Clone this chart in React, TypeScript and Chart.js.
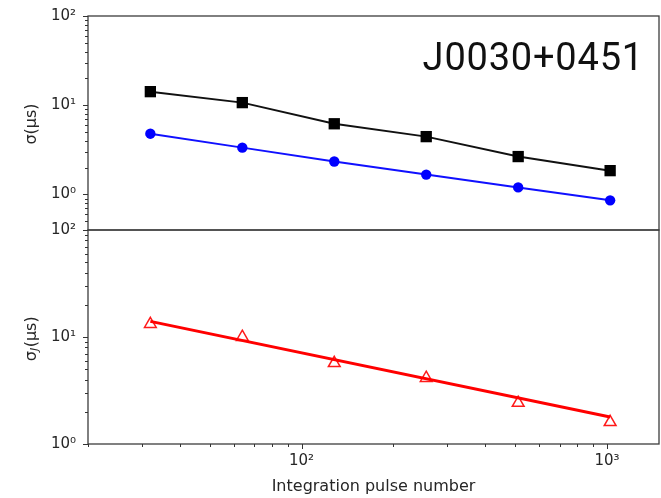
import React, { useEffect, useRef } from 'react';
import { Chart, registerables } from 'chart.js';

Chart.register(...registerables);

// ---- data ----
const pulseNumbers = [32, 64, 128, 256, 512, 1024];
const sigmaTotal = [14.2, 10.7, 6.2, 4.45, 2.66, 1.85];
const sigmaWhite = [4.8, 3.35, 2.34, 1.67, 1.2, 0.86];
const sigmaJitter = [13.2, 10.0, 5.7, 4.14, 2.42, 1.6];
const jitterFitX = [32, 1024];
const jitterFitY = [14.0, 1.79];

const xTicks = [20, 30, 40, 50, 60, 70, 80, 90, 100, 200, 300, 400, 500, 600, 700, 800, 900, 1000];
const yTopTicks = [0.4, 0.5, 0.6, 0.7, 0.8, 0.9, 1, 2, 3, 4, 5, 6, 7, 8, 9, 10, 20, 30, 40, 50, 60, 70, 80, 90, 100];
const yBottomTicks = [1, 2, 3, 4, 5, 6, 7, 8, 9, 10, 20, 30, 40, 50, 60, 70, 80, 90, 100];
const tickLabels: Record<string, string> = { '1': '10⁰', '10': '10¹', '100': '10²', '1000': '10³' };

const pulsarName = 'J0030+0451';
const xTitle = 'Integration pulse number';
const yTopTitle = 'σ(μs)';
const yBottomTitle = ['σ', 'J', '(μs)'];

const TEXT = '#262626';
const FONT = '"DejaVu Sans", sans-serif';

const isMajor = (v: number) => Math.abs(Math.log10(v) - Math.round(Math.log10(v))) < 1e-9;

const decor = {
  id: 'decor',
  afterDraw(chart: any) {
    const ctx = chart.ctx as CanvasRenderingContext2D;
    const { left, right } = chart.chartArea;
    const x = chart.scales.x;
    const yt = chart.scales.yTop;
    const yb = chart.scales.yBottom;
    ctx.save();
    // panel boxes
    ctx.strokeStyle = '#3c3c3c';
    ctx.lineWidth = 1.3;
    ctx.strokeRect(left, yt.top, right - left, yt.bottom - yt.top);
    ctx.strokeRect(left, yb.top, right - left, yb.bottom - yb.top);
    // tick marks
    ctx.lineWidth = 1;
    ctx.strokeStyle = '#333';
    ctx.beginPath();
    for (const t of xTicks) {
      const px = Math.round(x.getPixelForValue(t)) + 0.5;
      const len = isMajor(t) ? 5 : 3;
      ctx.moveTo(px, yb.bottom);
      ctx.lineTo(px, yb.bottom + len);
    }
    for (const [scale, ticks] of [[yt, yTopTicks], [yb, yBottomTicks]] as any) {
      for (const t of ticks) {
        const py = Math.round(scale.getPixelForValue(t)) + 0.5;
        const len = isMajor(t) ? 5 : 3;
        ctx.moveTo(left, py);
        ctx.lineTo(left - len, py);
      }
    }
    ctx.stroke();

    // pulsar name
    ctx.fillStyle = '#111';
    ctx.font = '38px Roboto';
    (ctx as any).letterSpacing = '0.8px';
    ctx.textAlign = 'right';
    ctx.textBaseline = 'alphabetic';
    ctx.fillText(pulsarName, right - 15, yt.top + 54);
    (ctx as any).letterSpacing = '0px';

    // y titles
    ctx.fillStyle = TEXT;
    ctx.font = `16px ${FONT}`;
    ctx.save();
    ctx.translate(31.5, (yt.top + yt.bottom) / 2 + 1);
    ctx.rotate(-Math.PI / 2);
    ctx.textAlign = 'center';
    ctx.textBaseline = 'middle';
    ctx.fillText(yTopTitle, 0, 0);
    ctx.restore();

    ctx.save();
    ctx.translate(31.5, (yb.top + yb.bottom) / 2 + 2);
    ctx.rotate(-Math.PI / 2);
    ctx.textAlign = 'left';
    ctx.textBaseline = 'middle';
    ctx.font = `16px ${FONT}`;
    const w1 = ctx.measureText(yBottomTitle[0]).width;
    const w3 = ctx.measureText(yBottomTitle[2]).width;
    ctx.font = `italic 11px ${FONT}`;
    const w2 = ctx.measureText(yBottomTitle[1]).width;
    let sx = -(w1 + w2 + w3) / 2;
    ctx.font = `16px ${FONT}`;
    ctx.fillText(yBottomTitle[0], sx, 0);
    sx += w1;
    ctx.font = `italic 11px ${FONT}`;
    ctx.fillText(yBottomTitle[1], sx, 4);
    sx += w2 + 0.5;
    ctx.font = `16px ${FONT}`;
    ctx.fillText(yBottomTitle[2], sx, 0);
    ctx.restore();

    ctx.restore();
  },
};

export default function App() {
  const ref = useRef<HTMLCanvasElement | null>(null);

  useEffect(() => {
    if (!ref.current) return;
    const pts = (xs: number[], ys: number[]) => xs.map((v, i) => ({ x: v, y: ys[i] }));
    const labelCb = (v: any) => tickLabels[String(v)] ?? '';
    const tickFont = { family: FONT, size: 15 };

    const chart = new Chart(ref.current, {
      type: 'line',
      data: {
        datasets: [
          {
            data: pts(pulseNumbers, sigmaTotal),
            yAxisID: 'yTop',
            borderColor: '#111',
            backgroundColor: '#000',
            borderWidth: 2,
            pointStyle: 'rect',
            pointRadius: 8,
            pointBorderWidth: 0,
          },
          {
            data: pts(pulseNumbers, sigmaWhite),
            yAxisID: 'yTop',
            borderColor: '#1010ff',
            backgroundColor: '#0000ff',
            borderWidth: 2,
            pointStyle: 'circle',
            pointRadius: 5.2,
            pointBorderWidth: 0,
          },
          {
            data: pts(jitterFitX, jitterFitY),
            yAxisID: 'yBottom',
            borderColor: '#ff0000',
            borderWidth: 3,
            pointRadius: 0,
          },
          {
            data: pts(pulseNumbers, sigmaJitter),
            yAxisID: 'yBottom',
            showLine: false,
            borderColor: '#ff1a1a',
            backgroundColor: 'rgba(255,255,255,0)',
            pointStyle: 'triangle',
            pointRadius: 6.8,
            pointBorderWidth: 1.5,
          },
        ],
      },
      options: {
        animation: false,
        responsive: false,
        events: [],
        layout: { autoPadding: false, padding: { top: 16, right: 2, left: 0, bottom: 0 } },
        plugins: { legend: { display: false }, tooltip: { enabled: false } },
        scales: {
          x: {
            type: 'logarithmic',
            min: 20,
            max: 1480,
            afterBuildTicks: (s: any) => { s.ticks = xTicks.map((v) => ({ value: v })); },
            afterFit: (s: any) => { s.height = 54; s.paddingLeft = 0; s.paddingRight = 0; },
            ticks: { callback: labelCb, autoSkip: false, maxRotation: 0, padding: 3, color: TEXT, font: tickFont },
            grid: { drawOnChartArea: false, drawTicks: true, tickLength: 5, color: 'rgba(0,0,0,0)', tickColor: 'rgba(0,0,0,0)' },
            border: { display: false },
            title: { display: true, text: xTitle, color: TEXT, font: { family: FONT, size: 16 }, padding: { top: 0, bottom: 2 } },
          },
          yBottom: {
            type: 'logarithmic',
            position: 'left',
            stack: 'panels',
            stackWeight: 1,
            min: 1,
            max: 100,
            afterBuildTicks: (s: any) => { s.ticks = yBottomTicks.map((v) => ({ value: v })); },
            afterFit: (s: any) => { s.width = 88; s.paddingTop = 0; s.paddingBottom = 0; },
            ticks: { callback: labelCb, autoSkip: false, padding: 7, color: TEXT, font: tickFont },
            grid: { drawOnChartArea: false, drawTicks: true, tickLength: 5, color: 'rgba(0,0,0,0)', tickColor: 'rgba(0,0,0,0)' },
            border: { display: false },
          },
          yTop: {
            type: 'logarithmic',
            position: 'left',
            stack: 'panels',
            stackWeight: 1,
            min: 0.4,
            max: 100,
            afterBuildTicks: (s: any) => { s.ticks = yTopTicks.map((v) => ({ value: v })); },
            afterFit: (s: any) => { s.width = 88; s.paddingTop = 0; s.paddingBottom = 0; },
            ticks: { callback: labelCb, autoSkip: false, padding: 7, color: TEXT, font: tickFont },
            grid: { drawOnChartArea: false, drawTicks: true, tickLength: 5, color: 'rgba(0,0,0,0)', tickColor: 'rgba(0,0,0,0)' },
            border: { display: false },
          },
        },
      } as any,
      plugins: [decor],
    });
    return () => chart.destroy();
  }, []);

  return (
    <div style={{ position: 'absolute', left: 0, top: 0, width: 661, height: 498, background: '#fff' }}>
      <canvas ref={ref} width={661} height={498} style={{ width: 661, height: 498, display: 'block' }} />
    </div>
  );
}
